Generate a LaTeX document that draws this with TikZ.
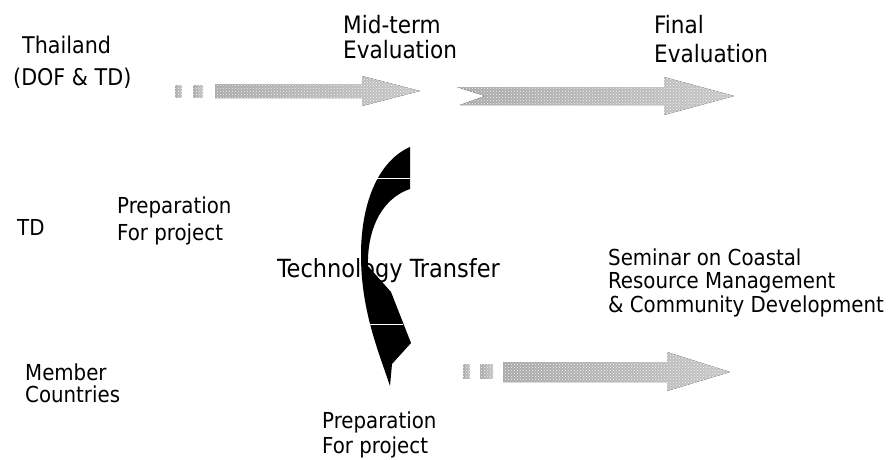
\documentclass[tikz,border=0pt]{standalone}
\usepackage{fontspec}
\setmainfont{DejaVu Sans Condensed}
\usetikzlibrary{patterns}
\begin{document}
\begin{tikzpicture}[x=1pt,y=-1pt,
  lbl/.style={anchor=base west, inner sep=0pt},
  flow/.style={left color=gray!68, right color=gray!45, draw=none,
    postaction={pattern=crosshatch dots, pattern color=white!92!gray}},
  curvefill/.style={fill=black, draw=none},
  scratch/.style={white, line width=0.9pt}]
\useasboundingbox (0,0) rectangle (888,459);

% --- block arrows of the time line ---
% Thailand: start to mid-term
\fill[flow] (175,85) rectangle (182,97);
\fill[flow] (193,85) rectangle (203,97);
\fill[flow] (215,84) -- (362,84) -- (362,76) -- (420,91) -- (362,106) -- (362,98) -- (215,98) -- cycle;
% Thailand: mid-term to final
\fill[flow] (457,87) -- (664,87) -- (664,77) -- (734,96) -- (664,115) -- (664,105) -- (460,105) -- (485,96) -- cycle;
% member countries: seminar
\fill[flow] (463,364) rectangle (470,378);
\fill[flow] (480,364) rectangle (493,378);
\fill[flow] (503,362) -- (667,362) -- (667,352) -- (730,372) -- (667,391) -- (667,382) -- (503,382) -- cycle;

% --- curved technology transfer arrow ---
\fill[curvefill] (410,147) .. controls (380,160) and (361,200) .. (361,255)
  .. controls (361,310) and (378,350) .. (390,386)
  -- (392,364) -- (411,343) -- (391,292) -- (368,266)
  .. controls (367,235) and (378,200) .. (410,189) -- cycle;
\draw[scratch] (374,178) -- (410,178);
\draw[scratch] (367,324) -- (403,324);

% --- labels (one node per line, placed by baseline) ---
\node[lbl, font=\fontsize{23}{32}\selectfont] (thai) at (22,53) {Thailand};
\node[lbl, font=\fontsize{23}{32}\selectfont] (thai2) at (13,85) {(DOF \& TD)};
\node[lbl, font=\fontsize{24}{25}\selectfont] (mid) at (343,33) {Mid-term};
\node[lbl, font=\fontsize{24}{25}\selectfont] (mid2) at (343,58) {Evaluation};
\node[lbl, font=\fontsize{24}{29}\selectfont] (final) at (654,33) {Final};
\node[lbl, font=\fontsize{24}{29}\selectfont] (final2) at (654,62) {Evaluation};
\node[lbl, font=\fontsize{22}{27}\selectfont] (td) at (17,235) {TD};
\node[lbl, font=\fontsize{22}{27}\selectfont] (prepTD) at (117,213) {Preparation};
\node[lbl, font=\fontsize{22}{27}\selectfont] (prepTD2) at (117,240) {For project};
\node[lbl, font=\fontsize{25}{30}\selectfont] (tech) at (277,277) {Technology Transfer};
\node[lbl, font=\fontsize{22}{24}\selectfont] (sem1) at (608,265) {Seminar on Coastal};
\node[lbl, font=\fontsize{22}{24}\selectfont] (sem2) at (608,288) {Resource Management};
\node[lbl, font=\fontsize{22}{24}\selectfont] (sem3) at (608,312) {\& Community Development};
\node[lbl, font=\fontsize{22}{24}\selectfont] (member) at (25,380) {Member};
\node[lbl, font=\fontsize{22}{24}\selectfont] (member2) at (25,402) {Countries};
\node[lbl, font=\fontsize{22}{24}\selectfont] (prepMC) at (322,428) {Preparation};
\node[lbl, font=\fontsize{22}{24}\selectfont] (prepMC2) at (322,453) {For project};
\end{tikzpicture}
\end{document}
